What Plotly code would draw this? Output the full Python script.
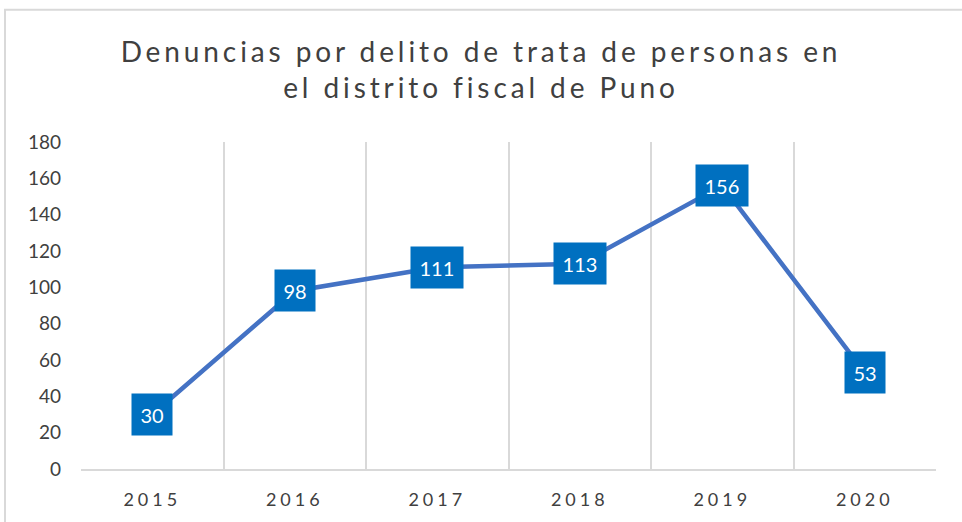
import plotly.graph_objects as go

years = ["2015", "2016", "2017", "2018", "2019", "2020"]
values = [30, 98, 111, 113, 156, 53]
y_ticks = [0, 20, 40, 60, 80, 100, 120, 140, 160, 180]

FONT = "Lato"
TXT = "#404040"
LINE = "#4472C4"
BOX = "#0070C0"
GRID = "#D9D9D9"

xpos = list(range(len(years)))

fig = go.Figure()
fig.add_trace(go.Scatter(
    x=xpos, y=values, mode="lines",
    line=dict(color=LINE, width=4.5),
    hoverinfo="skip", showlegend=False,
))

for xv, v in zip(xpos, values):
    fig.add_annotation(
        x=xv, y=v, xref="x", yref="y", text=str(v), showarrow=False,
        font=dict(family=FONT, size=20, color="white"),
        bgcolor=BOX, borderpad=8.5, xanchor="center", yanchor="middle",
    )

# chart frame
L, T, R, B = 81, 142, 936, 471
pw, ph = R - L, B - T
fig.add_shape(type="rect", xref="paper", yref="paper",
              x0=(5 - L) / pw, x1=(975 - L) / pw,
              y0=(B - 540) / ph, y1=(B - 9) / ph,
              line=dict(color=GRID, width=2), fillcolor="rgba(0,0,0,0)", layer="below")

fig.update_layout(
    width=962, height=522,
    margin=dict(l=L, r=962 - R, t=T, b=522 - B),
    paper_bgcolor="white", plot_bgcolor="white",
    title=dict(
        text="Denuncias por delito de trata de personas en<br>el distrito fiscal de Puno",
        x=0.5, xanchor="center", y=1 - 62 / 522, yanchor="top",
        font=dict(family=FONT, size=28, color=TXT),
    ),
    xaxis=dict(
        range=[-0.5, 5.5], tickmode="array", tickvals=xpos, ticktext=years,
        showgrid=False, zeroline=False, ticks="",
        showline=True, linecolor=GRID, linewidth=1.5,
        tickfont=dict(family=FONT, size=18, color=TXT),
        ticklabelstandoff=14,
        minor=dict(tickmode="array", tickvals=[i - 0.5 for i in range(len(years) + 1)],
                   showgrid=True, gridcolor=GRID, gridwidth=1.5, ticks=""),
    ),
    yaxis=dict(
        range=[0, 180], tickmode="array", tickvals=y_ticks,
        showgrid=False, zeroline=False, ticks="", showline=False,
        tickfont=dict(family=FONT, size=19, color=TXT),
        ticklabelstandoff=19,
    ),
)

post = """
document.body.style.margin='0';
document.querySelectorAll('.gtitle').forEach(function(e){e.style.letterSpacing='3.9px';});
document.querySelectorAll('.xtick text').forEach(function(e){e.style.letterSpacing='4px';});
"""
fig.write_html("out.html", post_script=post, config={"displayModeBar": False})
